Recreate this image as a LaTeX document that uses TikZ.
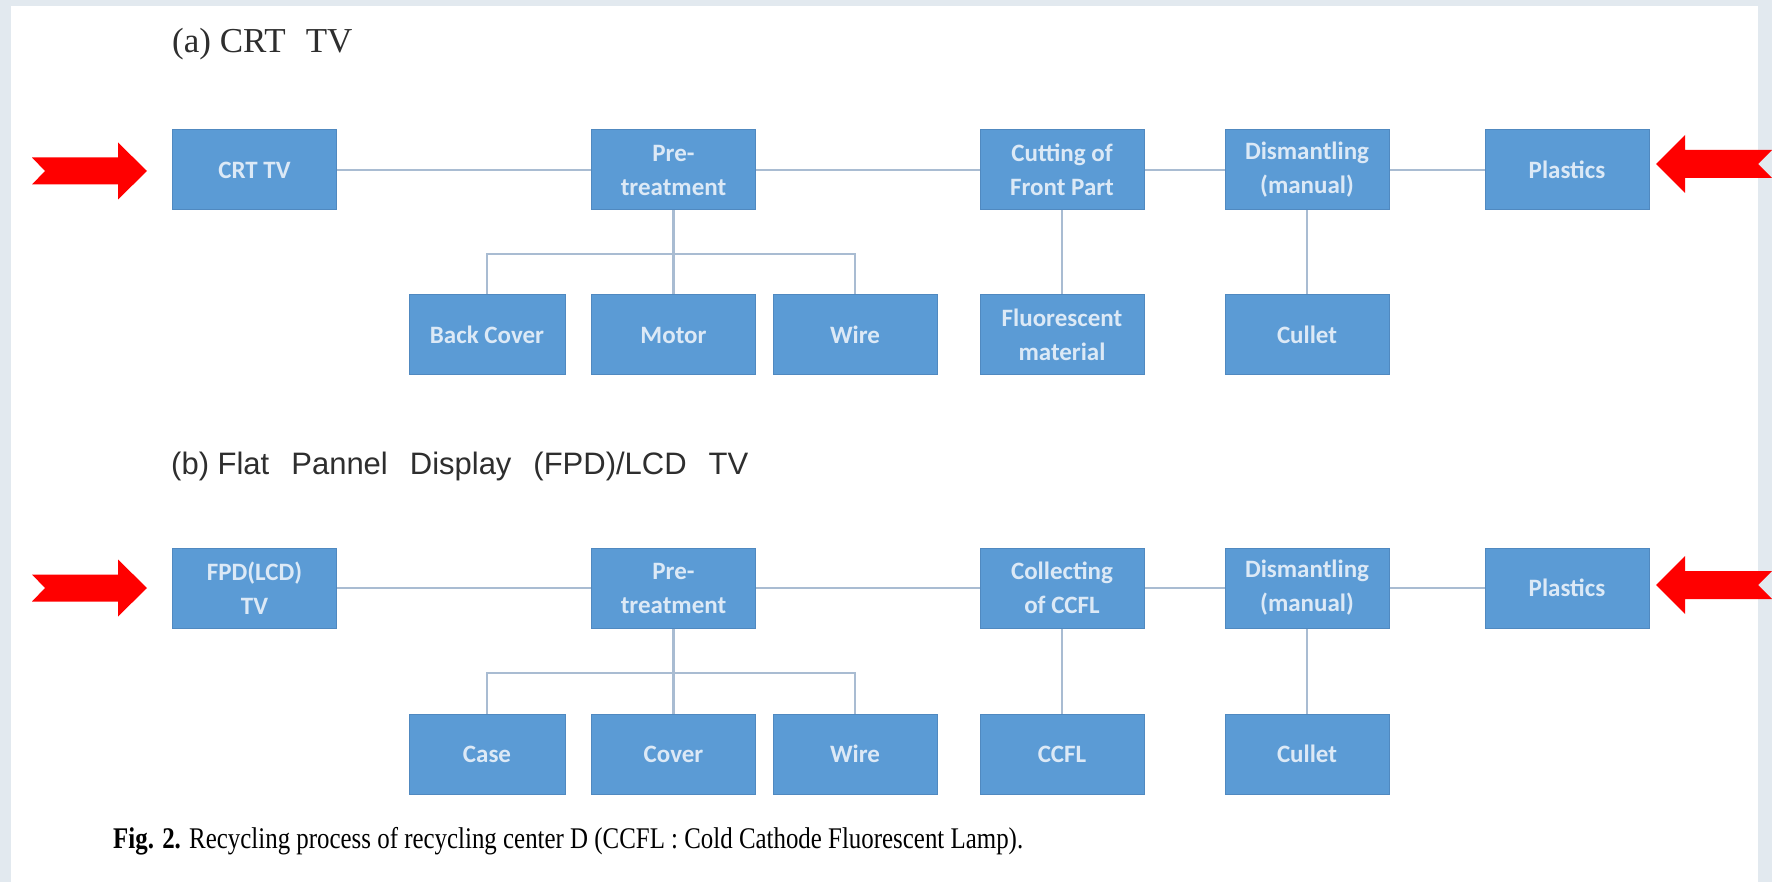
\documentclass[tikz,border=0pt]{standalone}
\usepackage{fontspec}
\setmainfont{Liberation Serif}
\setsansfont{Liberation Sans}
\newfontfamily\boxfont{Carlito}
\begin{document}
\begin{tikzpicture}[x=1pt,y=-1pt,
  procbox/.style={draw=boxedge,line width=1pt,fill=boxblue,text=boxtext,
    minimum width=164pt,minimum height=80pt,inner sep=2pt,align=center,
    font=\boxfont\bfseries\fontsize{25}{34}\selectfont},
  link/.style={draw=linkgray,line width=2.5pt},
  pointer/.style={fill=red},
  heading/.style={anchor=base west,inner sep=0pt,text=black!82}]
\definecolor{boxblue}{HTML}{5B9BD5}
\definecolor{boxedge}{HTML}{5089C0}
\definecolor{boxtext}{HTML}{DCE9F6}
\definecolor{linkgray}{HTML}{A9BCD2}
\definecolor{frame}{HTML}{E2E9EF}
% page and frame
\fill[frame] (0,0) rectangle (1772,882);
\fill[white] (11,6) rectangle (1758,882);
\useasboundingbox (0,0) rectangle (1772,882);

% (a) CRT TV
\node[heading,font=\fontsize{35}{40}\selectfont] (ha) at (172,53) {(a) CRT\hspace{20pt}TV};
\node[procbox] (a1) at (254.5,170) {CRT TV};
\node[procbox] (a2) at (673.5,170) {Pre-\\treatment};
\node[procbox] (a3) at (1062,170) {Cutting of\\Front Part};
\node[procbox] (a4) at (1307,170) {Dismantling\\(manual)};
\node[procbox] (a5) at (1567,170) {Plastics};
\node[procbox,minimum width=156pt] (a6) at (487,335) {Back Cover};
\node[procbox] (a7) at (673.5,335) {Motor};
\node[procbox] (a8) at (855,335) {Wire};
\node[procbox] (a9) at (1062,335) {Fluorescent\\material};
\node[procbox] (a10) at (1307,335) {Cullet};
\coordinate (abus) at (673.5,254);
\draw[link] (a1) -- (a2);
\draw[link] (a2) -- (a3);
\draw[link] (a3) -- (a4);
\draw[link] (a4) -- (a5);
\draw[link] (a2.south) -- (a7.north);
\draw[link] (a6.north) |- (abus) -| (a8.north);
\draw[link] (a3.south) -- (a9.north);
\draw[link] (a4.south) -- (a10.north);

% (b) FPD/LCD TV
\node[heading,font=\sffamily\fontsize{31}{35}\selectfont] (hb) at (171,474)
  {(b) Flat\hspace{22pt}Pannel\hspace{22pt}Display\hspace{22pt}(FPD)/LCD\hspace{22pt}TV};
\node[procbox] (b1) at (254.5,588) {FPD(LCD)\\TV};
\node[procbox] (b2) at (673.5,588) {Pre-\\treatment};
\node[procbox] (b3) at (1062,588) {Collecting\\of CCFL};
\node[procbox] (b4) at (1307,588) {Dismantling\\(manual)};
\node[procbox] (b5) at (1567,588) {Plastics};
\node[procbox,minimum width=156pt] (b6) at (487,754) {Case};
\node[procbox] (b7) at (673.5,754) {Cover};
\node[procbox] (b8) at (855,754) {Wire};
\node[procbox] (b9) at (1062,754) {CCFL};
\node[procbox] (b10) at (1307,754) {Cullet};
\coordinate (bbus) at (673.5,673);
\draw[link] (b1) -- (b2);
\draw[link] (b2) -- (b3);
\draw[link] (b3) -- (b4);
\draw[link] (b4) -- (b5);
\draw[link] (b2.south) -- (b7.north);
\draw[link] (b6.north) |- (bbus) -| (b8.north);
\draw[link] (b3.south) -- (b9.north);
\draw[link] (b4.south) -- (b10.north);

% red pointers
\foreach \cy in {171,588}{
  \fill[pointer] (32,\cy-13.5) -- (118,\cy-13.5) -- (118,\cy-28.5) -- (147,\cy)
    -- (118,\cy+28.5) -- (118,\cy+13.5) -- (32,\cy+13.5) -- (45,\cy) -- cycle;
}
\foreach \cy in {164,585}{
  \fill[pointer] (1656,\cy) -- (1685,\cy-29) -- (1685,\cy-14) -- (1772,\cy-14)
    -- (1758,\cy) -- (1772,\cy+14) -- (1685,\cy+14) -- (1685,\cy+29) -- cycle;
}

% caption
\node[anchor=base west,inner sep=0pt,xscale=0.83,font=\fontsize{30}{34}\selectfont] (cap) at (113,848)
  {\textbf{Fig. 2.} Recycling process of recycling center D (CCFL : Cold Cathode Fluorescent Lamp).};
\end{tikzpicture}
\end{document}
